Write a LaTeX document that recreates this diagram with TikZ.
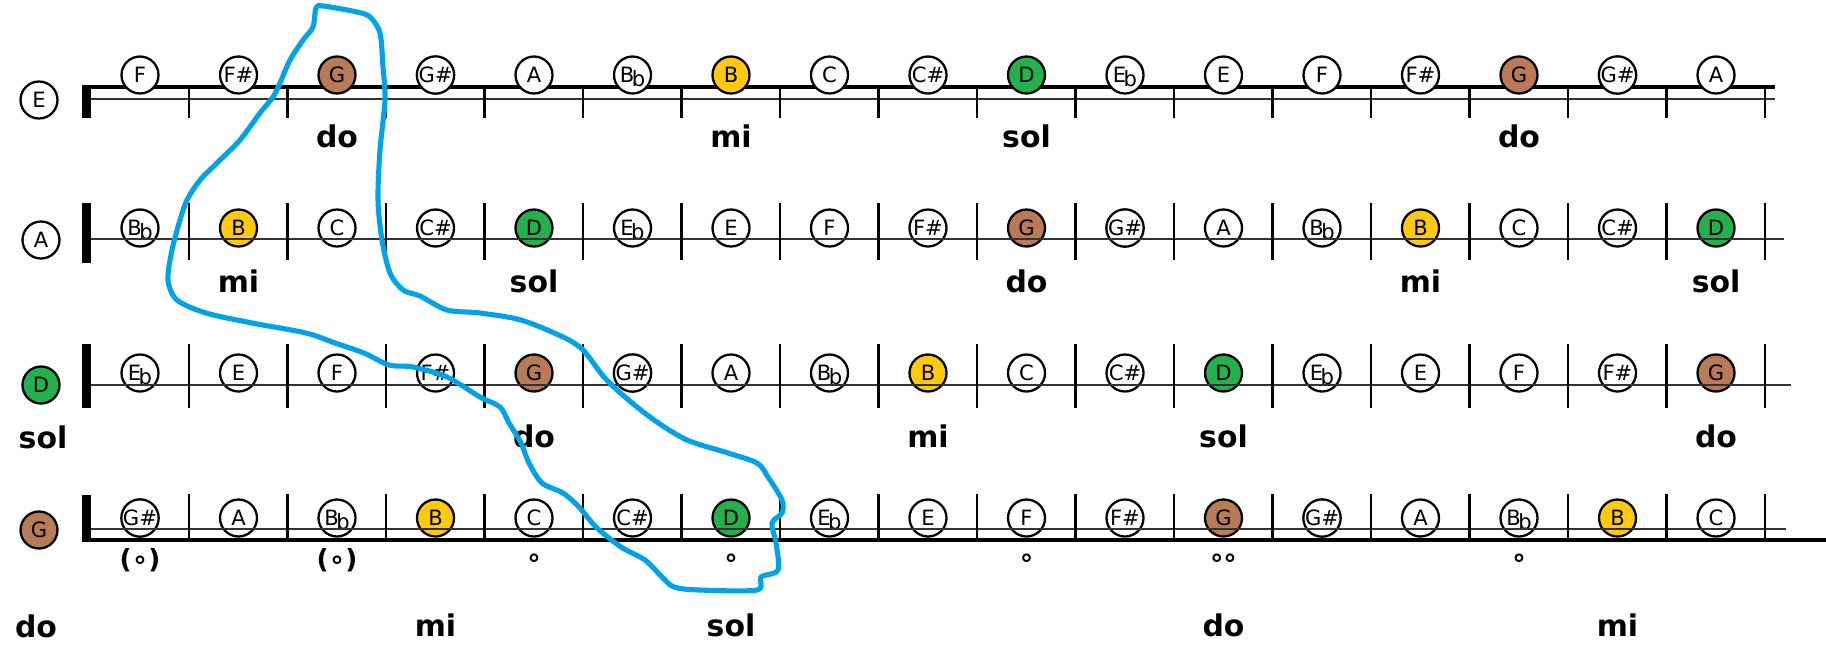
\documentclass[tikz,border=0pt]{standalone}
\usepackage{fontspec}
\setmainfont{DejaVu Sans}
\usetikzlibrary{calc}

\definecolor{dobrown}{RGB}{185,122,87}
\definecolor{miyellow}{RGB}{255,201,14}
\definecolor{solgreen}{RGB}{34,177,76}
\definecolor{loopblue}{RGB}{0,162,232}

\newcommand{\flatof}[1]{#1\kern-.12em\raisebox{-.35ex}{b}}

\begin{document}
\begin{tikzpicture}[
    x=0.02cm, y=-0.02cm,
    note/.style={circle, draw, line width=1.3pt, minimum size=0.74cm, inner sep=0pt, text depth=0pt, font=\fontsize{12}{12}\selectfont},
    syl/.style={anchor=base, font=\fontsize{17}{17}\selectfont\bfseries},
    ringmark/.style={font=\fontsize{15}{15}\selectfont\bfseries},
    thickstring/.style={line width=2.3pt},
    thinstring/.style={line width=0.9pt, black!80},
    fret/.style={line width=1.5pt},
    handloop/.style={loopblue, line width=2.9pt, line join=round}
]
\useasboundingbox (0,0) rectangle (1826,650);

% Thick strings (behind the notes)
\draw[thickstring] (82,87) -- (1775,87);
\draw[thickstring] (82,540) -- (1826,540);

% String names
\node[note] (strE) at (39,100) {E};
\node[note] (strA) at (41,240) {A};
\node[note, fill=solgreen] (strD) at (41,385) {D};
\node[note, fill=dobrown] (strG) at (39,530) {G};

% Notes
\foreach \n/\c [count=\k from 0] in {F/white, F\#/white, G/dobrown, G\#/white, A/white, \flatof{B}/white, B/miyellow, C/white, C\#/white, D/solgreen, \flatof{E}/white, E/white, F/white, F\#/white, G/dobrown, G\#/white, A/white}
  \node[note, fill=\c] (e\k) at ({140+98.5*\k},75) {\n};
\foreach \n/\c [count=\k from 0] in {\flatof{B}/white, B/miyellow, C/white, C\#/white, D/solgreen, \flatof{E}/white, E/white, F/white, F\#/white, G/dobrown, G\#/white, A/white, \flatof{B}/white, B/miyellow, C/white, C\#/white, D/solgreen}
  \node[note, fill=\c] (a\k) at ({140+98.5*\k},228) {\n};
\foreach \n/\c [count=\k from 0] in {\flatof{E}/white, E/white, F/white, F\#/white, G/dobrown, G\#/white, A/white, \flatof{B}/white, B/miyellow, C/white, C\#/white, D/solgreen, \flatof{E}/white, E/white, F/white, F\#/white, G/dobrown}
  \node[note, fill=\c] (d\k) at ({140+98.5*\k},373) {\n};
\foreach \n/\c [count=\k from 0] in {G\#/white, A/white, \flatof{B}/white, B/miyellow, C/white, C\#/white, D/solgreen, \flatof{E}/white, E/white, F/white, F\#/white, G/dobrown, G\#/white, A/white, \flatof{B}/white, B/miyellow, C/white}
  \node[note, fill=\c] (g\k) at ({140+98.5*\k},518) {\n};

% Thin strings, nuts and frets
\draw[thinstring] (91,99) -- (1775,99);
\draw[thinstring] (91,239) -- (1784,239);
\draw[thinstring] (91,385) -- (1791,385);
\draw[thinstring] (91,529) -- (1786,529);
\fill (82,87) rectangle (91,118);
\fill (82,203) rectangle (91,263);
\fill (82,344) rectangle (91,408);
\fill (82,495) rectangle (91,542);
\foreach \k in {0,...,16} {
  \draw[fret] ({189+98.5*\k},87) -- ++(0,31);
  \draw[fret] ({189+98.5*\k},203) -- ++(0,57);
  \draw[fret] ({189+98.5*\k},344) -- ++(0,64);
  \draw[fret] ({189+98.5*\k},494) -- ++(0,46);
}

% Syllables
\node[syl] at ($(e2)+(0,72)$) {do};
\node[syl] at ($(e6)+(0,72)$) {mi};
\node[syl] at ($(e9)+(0,72)$) {sol};
\node[syl] at ($(e14)+(0,72)$) {do};
\node[syl] at ($(a1)+(0,64)$) {mi};
\node[syl] at ($(a4)+(0,64)$) {sol};
\node[syl] at ($(a9)+(0,64)$) {do};
\node[syl] at ($(a13)+(0,64)$) {mi};
\node[syl] at ($(a16)+(0,64)$) {sol};
\node[syl] at ($(strD)+(2,63)$) {sol};
\node[syl] at ($(d4)+(0,74)$) {do};
\node[syl] at ($(d8)+(0,74)$) {mi};
\node[syl] at ($(d11)+(0,74)$) {sol};
\node[syl] at ($(d16)+(0,74)$) {do};
\node[syl] at ($(strG)+(-3,107)$) {do};
\node[syl] at ($(g3)+(0,118)$) {mi};
\node[syl] at ($(g6)+(0,118)$) {sol};
\node[syl] at ($(g11)+(0,118)$) {do};
\node[syl] at ($(g15)+(0,118)$) {mi};

% Open-string marks
\node[ringmark] at ($(g0)+(0,42)$) {(∘)};
\node[ringmark] at ($(g2)+(0,42)$) {(∘)};
\node[ringmark] at ($(g4)+(0,42)$) {∘};
\node[ringmark] at ($(g6)+(0,42)$) {∘};
\node[ringmark] at ($(g9)+(0,42)$) {∘};
\node[ringmark] at ($(g11)+(0,42)$) {∘\kern-.12em∘};
\node[ringmark] at ($(g14)+(0,42)$) {∘};

% Hand-drawn loop
\draw[handloop] plot[smooth cycle, tension=0.5] coordinates {(316,8) (323,6) (357,12) (370,17) (380,33) (383,67) (385,100) (380,150) (378,200) (382,240) (390,273) (403,290) (420,296) (447,310) (480,313) (521,320) (563,337) (583,350) (604,377) (625,397) (654,420) (687,440) (728,453) (757,463) (768,477) (782,500) (782,513) (772,523) (776,543) (778,570) (761,577) (757,590) (699,590) (674,587) (662,577) (645,560) (621,547) (596,527) (579,507) (563,493) (542,483) (529,463) (521,443) (509,423) (500,407) (480,397) (447,377) (413,367) (389,365) (364,353) (335,343) (306,333) (252,323) (206,313) (177,300) (168,280) (172,250) (180,220) (187,200) (200,180) (217,163) (240,140) (260,113) (273,97) (280,83) (290,60) (303,40) (313,27)};

\end{tikzpicture}
\end{document}
